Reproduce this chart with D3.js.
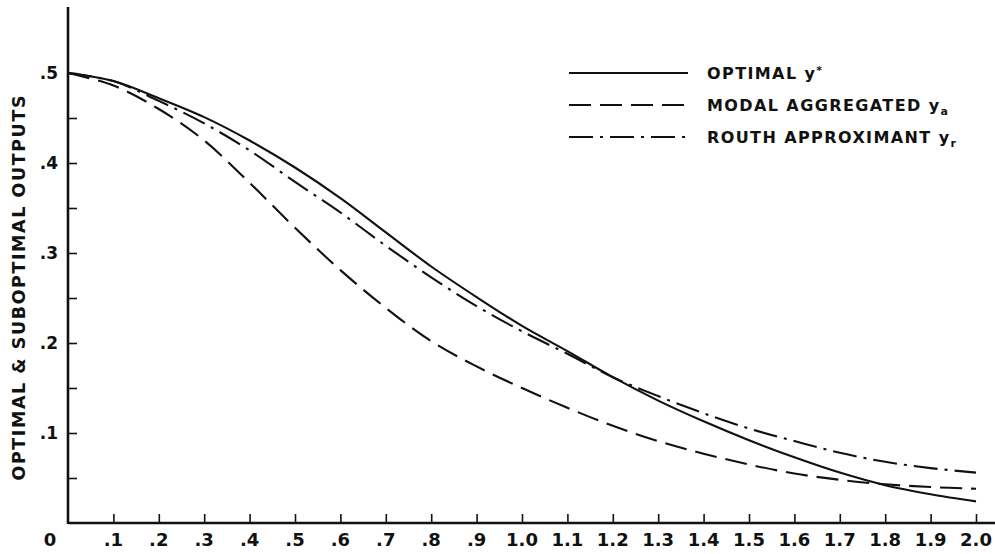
<!DOCTYPE html>
<html>
<head>
<meta charset="utf-8">
<script src="https://cdn.jsdelivr.net/npm/d3@7"></script>
<style>
    html, body { margin: 0; padding: 0; background: #fff; }
    svg { display: block; }
    text { font-family: 'DejaVu Sans', sans-serif; font-weight: bold; fill: #111; }
</style>
</head>
<body>
<svg id="chart" width="995" height="554"></svg>
<script>
// time values (x) shared by all three responses
const xValues = [0, 0.1, 0.2, 0.3, 0.4, 0.5, 0.6, 0.7, 0.8, 0.9, 1.0,
                 1.1, 1.2, 1.3, 1.4, 1.5, 1.6, 1.7, 1.8, 1.9, 2.0];

const optimal = [0.500, 0.491, 0.472, 0.451, 0.425, 0.395, 0.361, 0.323, 0.285, 0.251, 0.219,
                 0.191, 0.162, 0.136, 0.113, 0.092, 0.073, 0.056, 0.042, 0.032, 0.024];
const modalAggregated = [0.500, 0.486, 0.460, 0.425, 0.378, 0.328, 0.281, 0.239, 0.202, 0.174, 0.150,
                         0.128, 0.108, 0.091, 0.077, 0.065, 0.055, 0.048, 0.043, 0.040, 0.038];
const routhApproximant = [0.500, 0.491, 0.469, 0.444, 0.414, 0.379, 0.345, 0.308, 0.273, 0.241, 0.213,
                          0.188, 0.162, 0.141, 0.122, 0.105, 0.091, 0.078, 0.068, 0.061, 0.056];

const xTicks = d3.range(0, 21).map((i) => i / 10);
const xTickLabels = ['0', '.1', '.2', '.3', '.4', '.5', '.6', '.7', '.8', '.9', '1.0',
                     '1.1', '1.2', '1.3', '1.4', '1.5', '1.6', '1.7', '1.8', '1.9', '2.0'];
const yTicks = [0.05, 0.1, 0.15, 0.2, 0.25, 0.3, 0.35, 0.4, 0.45, 0.5];
const yLabelTicks = [0.1, 0.2, 0.3, 0.4, 0.5];
const yTickLabels = ['.1', '.2', '.3', '.4', '.5'];

const seriesNames = ['OPTIMAL', 'MODAL AGGREGATED', 'ROUTH APPROXIMANT'];
const seriesSymbols = [['y', '*', 'sup'], ['y', 'a', 'sub'], ['y', 'r', 'sub']];
const seriesDashes = [null, '22,9', '24,7,3,7'];
const seriesValues = [optimal, modalAggregated, routhApproximant];

const svg = d3.select('#chart');

const x = d3.scaleLinear().domain([0, 2]).range([68, 976]);
const y = d3.scaleLinear().domain([0, 0.5]).range([523, 73]);

// ticks point inward on both axes
const xAxis = d3.axisTop(x)
    .tickValues(xTicks.slice(1))
    .tickSize(9)
    .tickFormat('');
const yAxis = d3.axisRight(y)
    .tickValues(yTicks)
    .tickSize(9)
    .tickFormat('');

const xg = svg.append('g')
    .attr('transform', `translate(0, ${y(0)})`)
    .call(xAxis);
xg.select('.domain').remove();
xg.selectAll('line').attr('stroke', '#111').attr('stroke-width', 1.6);

const yg = svg.append('g')
    .attr('transform', `translate(${x(0)}, 0)`)
    .call(yAxis);
yg.select('.domain').remove();
yg.selectAll('line').attr('stroke', '#111').attr('stroke-width', 1.6);

// axis lines
svg.append('line')
    .attr('x1', x(0)).attr('x2', 995)
    .attr('y1', y(0)).attr('y2', y(0))
    .attr('stroke', '#111').attr('stroke-width', 2.6);
svg.append('line')
    .attr('x1', x(0)).attr('x2', x(0))
    .attr('y1', y(0) + 1).attr('y2', 7)
    .attr('stroke', '#111').attr('stroke-width', 2.6);

// tick labels
svg.append('g')
  .selectAll('text')
  .data(xTicks)
  .enter()
  .append('text')
    .attr('x', (d, i) => i === 0 ? x(d) - 18 : x(d))
    .attr('y', 546)
    .attr('text-anchor', 'middle')
    .style('font-size', '18px')
    .text((d, i) => xTickLabels[i]);

svg.append('g')
  .selectAll('text')
  .data(yLabelTicks)
  .enter()
  .append('text')
    .attr('x', 58)
    .attr('y', (d) => y(d) + 6)
    .attr('text-anchor', 'end')
    .style('font-size', '17px')
    .text((d, i) => yTickLabels[i]);

// y title
svg.append('text')
    .attr('transform', 'translate(25, 288) rotate(-90)')
    .attr('text-anchor', 'middle')
    .attr('textLength', 385)
    .attr('lengthAdjust', 'spacing')
    .style('font-size', '17.5px')
    .text('OPTIMAL & SUBOPTIMAL OUTPUTS');

// curves
const line = d3.line()
    .x((d) => x(d[0]))
    .y((d) => y(d[1]))
    .curve(d3.curveCatmullRom.alpha(0.5));

seriesValues.forEach((vals, s) => {
    svg.append('path')
        .datum(xValues.map((xv, i) => [xv, vals[i]]))
        .attr('d', line)
        .attr('fill', 'none')
        .attr('stroke', '#111')
        .attr('stroke-width', 2.1)
        .attr('stroke-dasharray', seriesDashes[s]);
});

// legend
const legend = svg.append('g');
seriesNames.forEach((name, s) => {
    const ly = 73 + s * 32;
    legend.append('line')
        .attr('x1', 569).attr('x2', 688)
        .attr('y1', ly).attr('y2', ly)
        .attr('stroke', '#111')
        .attr('stroke-width', 2)
        .attr('stroke-dasharray', seriesDashes[s]);
    const t = legend.append('text')
        .attr('x', 707)
        .attr('y', ly + 6)
        .style('font-size', '16px')
        .style('letter-spacing', '1.4px');
    t.append('tspan').text(name + '  ');
    const [sym, idx, kind] = seriesSymbols[s];
    t.append('tspan').text(sym);
    t.append('tspan')
        .attr('dy', kind === 'sup' ? -5 : 4)
        .style('font-size', '11px')
        .text(idx);
});
</script>
</body>
</html>
